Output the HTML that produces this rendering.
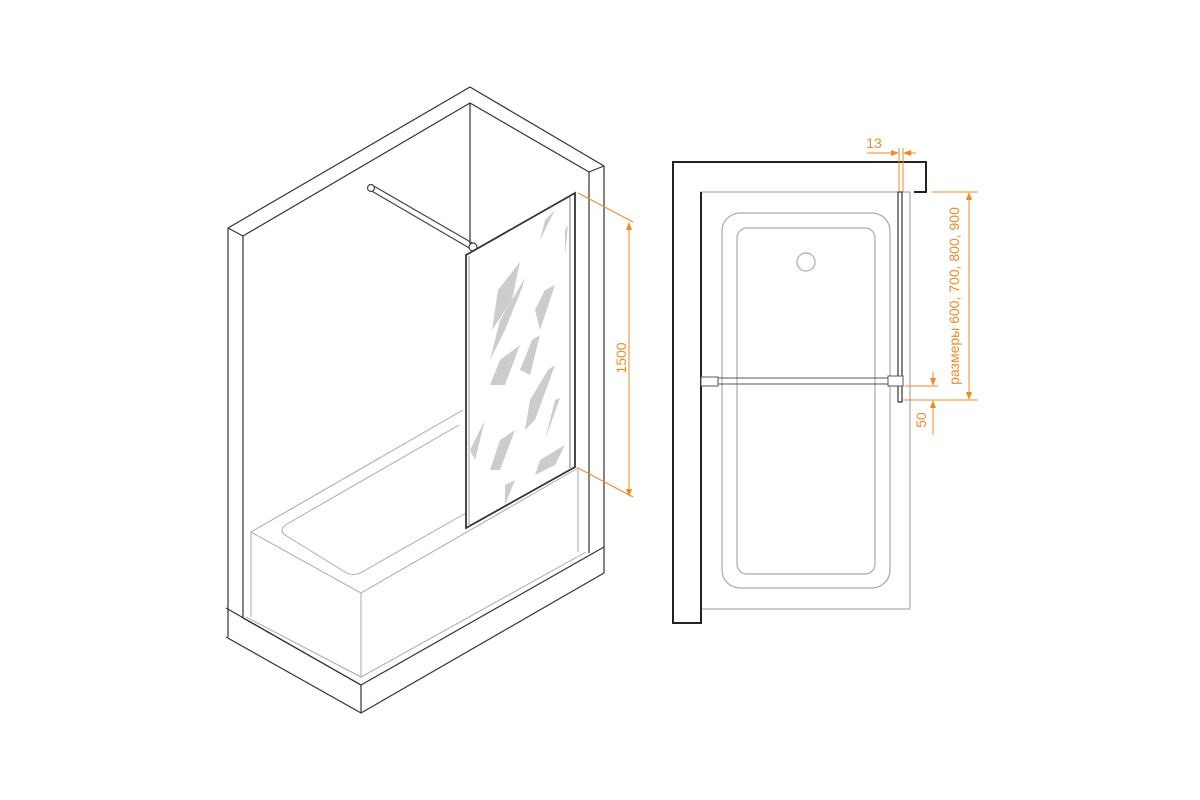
<!DOCTYPE html>
<html><head><meta charset="utf-8"><style>
html,body{margin:0;padding:0;background:#fff;}
svg{display:block}
text{font-family:"Liberation Sans",sans-serif;fill:#f08a24;font-size:14px}
</style></head><body>
<svg width="1200" height="800" viewBox="0 0 1200 800" xmlns="http://www.w3.org/2000/svg">
<g fill="none" stroke="#333" stroke-width="1.2" stroke-linejoin="round">
  <polyline points="228,228 470,87 604,166"/>
  <polyline points="243,236 470,103 589,172"/>
  <line x1="228" y1="228" x2="243" y2="236"/>
  <line x1="589" y1="172" x2="604" y2="166"/>
  <line x1="470" y1="103" x2="470" y2="244"/>
  <line x1="228" y1="228" x2="228" y2="637"/>
  <line x1="243" y1="236" x2="243" y2="618"/>
  <line x1="604" y1="166" x2="604" y2="573"/>
  <line x1="589" y1="172" x2="589" y2="553"/>
  <polyline points="226,608 361,685 604,547"/>
  <polyline points="226,637 361,713 604,573"/>
  <line x1="361" y1="685" x2="361" y2="713"/>
  <line x1="243" y1="618" x2="361" y2="685"/>
</g>
<g fill="none" stroke="#aaa" stroke-width="1">
  <polyline points="463,410 251,532 361,593 578,468"/>
  <line x1="251" y1="532" x2="251" y2="617"/>
  <line x1="361" y1="593" x2="361" y2="677"/>
  <polyline points="246,617 361,677 586,552"/>
  <line x1="578" y1="468" x2="578" y2="552"/>
  <path d="M459,425 L287,524 Q278,530 285,535 L345,572 Q353,577 362,572 L466,513"/>
  <polyline points="470,420 578,468" stroke="#ddd"/>
  <polyline points="475,425 560,470" stroke="#ddd"/>
</g>
<g stroke="#444" fill="none" stroke-width="1.2">
  <line x1="372" y1="185" x2="474" y2="244"/>
  <line x1="370" y1="190" x2="471" y2="249"/>
  <circle cx="371" cy="188" r="3.5" fill="#fff"/>
  <circle cx="473" cy="247" r="4" fill="#fff"/>
</g>
<polygon points="466,255 575,193 575,467 466,528" fill="#fff" stroke="#333" stroke-width="1.8"/>
<line x1="570" y1="197" x2="570" y2="468" stroke="#777" stroke-width="1"/>
<line x1="469" y1="256" x2="469" y2="526" stroke="#999" stroke-width="1"/>
<g fill="#ccc">
  <path d="M498,290 L520,262 L512,300 L492,330 Z"/>
  <path d="M525,278 L522,288 L505,330 L490,360 L500,320 Z"/>
  <path d="M545,290 L555,285 L540,330 L535,310 Z"/>
  <path d="M500,360 L520,345 L505,385 L490,385 Z"/>
  <path d="M532,340 L540,335 L530,375 L520,370 Z"/>
  <path d="M548,370 L555,365 L535,420 L525,430 L530,400 Z"/>
  <path d="M500,440 L515,430 L500,470 L490,470 Z"/>
  <path d="M555,400 L560,398 L545,440 Z"/>
  <path d="M540,460 L565,445 L555,465 L535,475 Z"/>
  <path d="M480,430 L485,420 L475,460 L470,450 Z"/>
  <path d="M545,220 L555,210 L540,240 Z"/>
  <path d="M565,230 L568,225 L565,255 Z"/>
  <path d="M505,485 L515,480 L505,505 Z"/>
</g>
<g stroke="#f08a24" stroke-width="1" fill="#f08a24">
  <line x1="578" y1="193" x2="633" y2="222" fill="none"/>
  <line x1="578" y1="468" x2="633" y2="497" fill="none"/>
  <line x1="629" y1="226" x2="629" y2="493"/>
  <polygon points="629,222 626,230 632,230" stroke="none"/>
  <polygon points="629,497 626,489 632,489" stroke="none"/>
</g>
<text transform="translate(626,358) rotate(-90)" text-anchor="middle" font-size="16">1500</text>

<g fill="none" stroke="#aaa" stroke-width="1.2">
  <rect x="701" y="192" width="209" height="417"/>
  <rect x="722" y="213" width="168" height="375" rx="18"/>
  <rect x="737" y="228" width="138" height="346" rx="10"/>
  <circle cx="806" cy="262" r="9"/>
</g>
<polyline points="914,192 926,192 926,162 673,162 673,623 701,623 701,192" fill="none" stroke="#222" stroke-width="2"/>
<rect x="898" y="192" width="4" height="210" fill="#fff" stroke="#333" stroke-width="1.2"/>
<g stroke="#555" stroke-width="1" fill="#fff">
  <line x1="715" y1="378" x2="890" y2="378"/>
  <line x1="715" y1="384" x2="890" y2="384"/>
  <rect x="701" y="377" width="17" height="9"/>
  <rect x="888" y="376" width="15" height="10"/>
</g>
<g stroke="#f08a24" stroke-width="1" fill="#f08a24">
  <line x1="899" y1="148" x2="899" y2="192"/>
  <line x1="903" y1="148" x2="903" y2="192"/>
  <line x1="867" y1="153" x2="894" y2="153"/>
  <polygon points="899,153 891,150 891,156" stroke="none"/>
  <line x1="908" y1="153" x2="916" y2="153"/>
  <polygon points="903,153 911,150 911,156" stroke="none"/>
  <line x1="932" y1="192" x2="978" y2="192"/>
  <line x1="903" y1="400" x2="978" y2="400"/>
  <line x1="969" y1="197" x2="969" y2="395"/>
  <polygon points="969,192 966,200 972,200" stroke="none"/>
  <polygon points="969,400 966,392 972,392" stroke="none"/>
  <line x1="905" y1="386" x2="938" y2="386"/>
  <line x1="933" y1="372" x2="933" y2="382"/>
  <polygon points="933,386 930,378 936,378" stroke="none"/>
  <line x1="933" y1="405" x2="933" y2="435"/>
  <polygon points="933,400 930,408 936,408" stroke="none"/>
</g>
<text x="874" y="148" text-anchor="middle" font-size="14">13</text>
<text transform="translate(926,420) rotate(-90)" text-anchor="middle" font-size="14">50</text>
<text transform="translate(959,296) rotate(-90)" text-anchor="middle" font-size="17">размеры 600, 700, 800, 900</text>
</svg>
</body></html>
